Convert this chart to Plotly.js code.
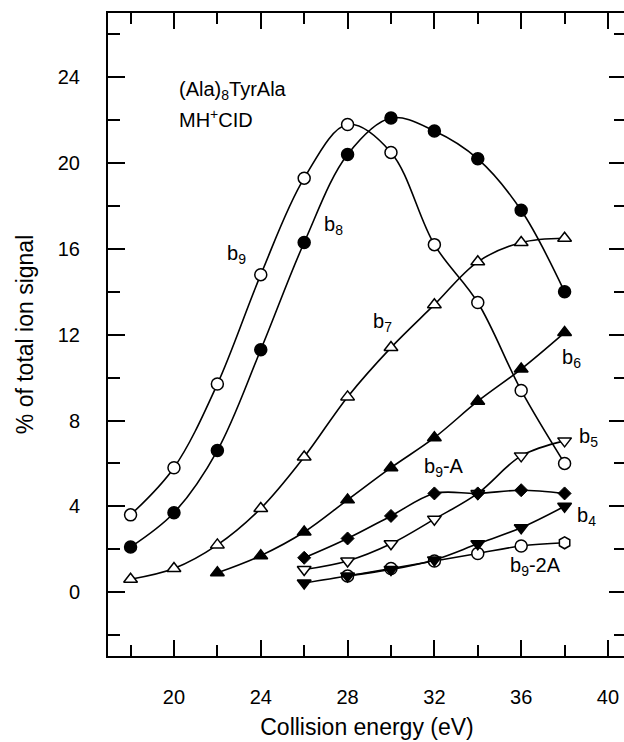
<!DOCTYPE html>
<html>
<head>
<meta charset="utf-8">
<script src="https://cdn.plot.ly/plotly-3.0.1.min.js"></script>
<style>
html,body{margin:0;padding:0;overflow:hidden;background:#fff;}
#chart{width:628px;height:742px;}
</style>
</head>
<body>
<div id="chart"></div>
<script>
// Collision energy (eV)
const energy = [18, 20, 22, 24, 26, 28, 30, 32, 34, 36, 38];
const energyB6 = [22, 24, 26, 28, 30, 32, 34, 36, 38];
const energyLow = [26, 28, 30, 32, 34, 36, 38];
const energy2A = [28, 30, 32, 34, 36, 38];

// % of total ion signal
const b9  = [3.6, 5.8, 9.7, 14.8, 19.3, 21.8, 20.5, 16.2, 13.5, 9.4, 6.0];
const b8  = [2.1, 3.7, 6.6, 11.3, 16.3, 20.4, 22.1, 21.5, 20.2, 17.8, 14.0];
const b7  = [0.6, 1.1, 2.2, 3.9, 6.3, 9.1, 11.4, 13.4, 15.4, 16.3, 16.5];
const b6  = [0.9, 1.7, 2.8, 4.3, 5.8, 7.2, 8.9, 10.4, 12.1];
const b9A = [1.6, 2.5, 3.55, 4.6, 4.6, 4.75, 4.6];
const b5  = [1.05, 1.45, 2.25, 3.4, 4.6, 6.35, 7.05];
const b4  = [0.42, 0.75, 1.05, 1.5, 2.25, 3.0, 4.0];
const b92A = [0.75, 1.1, 1.45, 1.8, 2.15, 2.3];

const FONT = '"Liberation Sans", Arial, Helvetica, sans-serif';

function tr(x, y, symbol, fill, name) {
  return {
    x: x, y: y, name: name, type: 'scatter', mode: 'lines+markers',
    line: {color: '#000', width: 1.6, shape: 'spline', smoothing: 1},
    marker: {symbol: symbol, size: 12, color: fill, line: {color: '#000', width: 1.5}},
    showlegend: false, cliponaxis: false
  };
}

const traces = [
  tr(energy, b9, 'circle', '#fff', 'b9'),
  tr(energy, b8, 'circle', '#000', 'b8'),
  tr(energy, b7, 'triangle-up', '#fff', 'b7'),
  tr(energyB6, b6, 'triangle-up', '#000', 'b6'),
  tr(energyLow, b5, 'triangle-down', '#fff', 'b5'),
  tr(energyLow, b9A, 'diamond', '#000', 'b9-A'),
  tr(energy2A, b92A, ['circle','circle','circle','circle','circle','hexagon'], '#fff', 'b9-2A'),
  tr(energyLow, b4, 'triangle-down', '#000', 'b4')
];
traces[5].marker.size = 10;
traces[5].marker.line.width = 1;

const lab = (x, y, text, xanchor) => ({
  x: x, y: y, xref: 'x', yref: 'y', text: text, showarrow: false,
  xanchor: xanchor || 'center', yanchor: 'middle',
  font: {family: FONT, size: 20, color: '#000'}
});

const layout = {
  width: 628, height: 742,
  margin: {l: 108, r: 2, t: 13, b: 86},
  paper_bgcolor: '#fff', plot_bgcolor: '#fff',
  font: {family: FONT, color: '#000', size: 20},
  xaxis: {
    range: [16.96, 40.83], tick0: 0, dtick: 4,
    ticks: 'inside', ticklen: 16, tickwidth: 2, tickcolor: '#000',
    minor: {ticks: 'inside', ticklen: 11, tickwidth: 2, tickcolor: '#000', dtick: 2, tick0: 0},
    showline: true, linewidth: 2, linecolor: '#000', mirror: 'ticks',
    showgrid: false, zeroline: false,
    tickfont: {family: FONT, size: 20, color: '#000'},
    ticklabelstandoff: 22,
    title: {text: 'Collision energy (eV)', font: {family: FONT, size: 23, color: '#000'}, standoff: 12}
  },
  yaxis: {
    range: [-2.98, 27.0], tick0: 0, dtick: 4,
    ticks: 'inside', ticklen: 17, tickwidth: 2, tickcolor: '#000',
    minor: {ticks: 'inside', ticklen: 12, tickwidth: 2, tickcolor: '#000', dtick: 2, tick0: 0},
    showline: true, linewidth: 2, linecolor: '#000', mirror: 'ticks',
    showgrid: false, zeroline: false,
    tickfont: {family: FONT, size: 20, color: '#000'},
    ticklabelstandoff: 22,
    title: {text: '% of total ion signal', font: {family: FONT, size: 23, color: '#000'}, standoff: 18}
  },
  annotations: [
    lab(20.14, 23.4, '(Ala)<sub>8</sub>TyrAla', 'left'),
    lab(20.14, 22.1, 'MH<sup>+</sup>CID', 'left'),
    lab(22.9, 15.76, 'b<sub>9</sub>'),
    lab(27.33, 17.11, 'b<sub>8</sub>'),
    lab(29.59, 12.59, 'b<sub>7</sub>'),
    lab(38.34, 10.91, 'b<sub>6</sub>'),
    lab(39.08, 7.23, 'b<sub>5</sub>'),
    lab(32.44, 5.83, 'b<sub>9</sub>-A'),
    lab(38.99, 3.54, 'b<sub>4</sub>'),
    lab(36.68, 1.17, 'b<sub>9</sub>-2A')
  ]
};

Plotly.newPlot('chart', traces, layout, {displayModeBar: false, staticPlot: true});
</script>
</body>
</html>
